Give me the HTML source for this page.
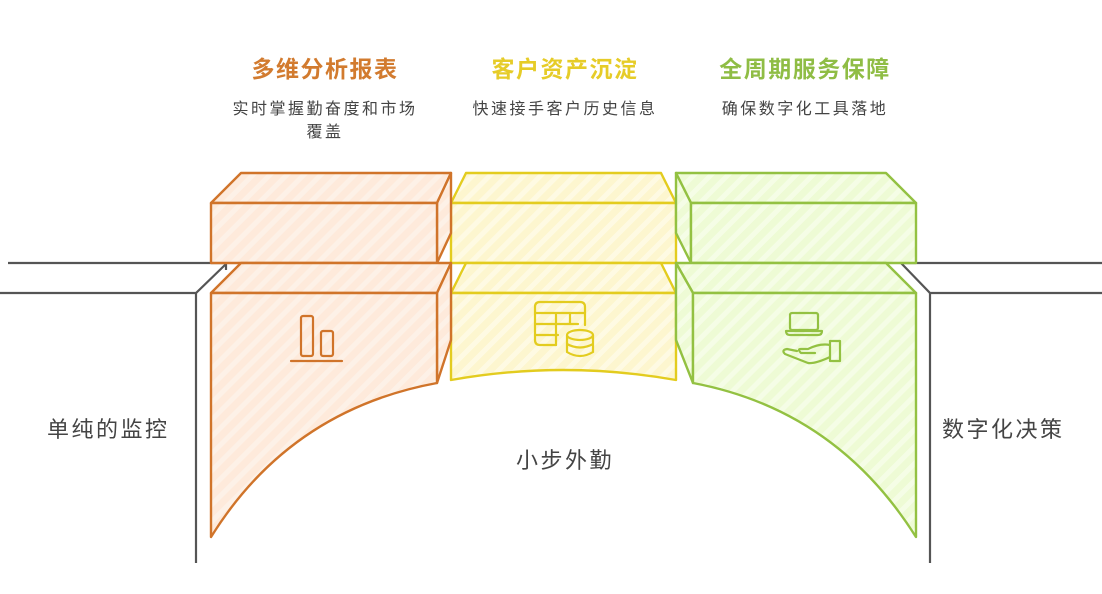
<!DOCTYPE html>
<html><head><meta charset="utf-8"><style>
html,body{margin:0;padding:0;background:#fff;}
svg{display:block;}
text{font-family:"Liberation Sans","Noto Sans CJK SC",sans-serif;}
</style></head><body>
<svg width="1102" height="594" viewBox="0 0 1102 594" xmlns="http://www.w3.org/2000/svg">
<defs>
<pattern id="po" width="12" height="12" patternUnits="userSpaceOnUse" patternTransform="rotate(45)">
<rect width="12" height="12" fill="#feeadb"/><rect width="5" height="12" fill="#fdf1e7"/></pattern>
<pattern id="py" width="12" height="12" patternUnits="userSpaceOnUse" patternTransform="rotate(45)">
<rect width="12" height="12" fill="#fdf6cf"/><rect width="5" height="12" fill="#fefae3"/></pattern>
<pattern id="pg" width="12" height="12" patternUnits="userSpaceOnUse" patternTransform="rotate(45)">
<rect width="12" height="12" fill="#eefbd5"/><rect width="5" height="12" fill="#f5fde6"/></pattern>
</defs>

<!-- gray walls -->
<g fill="none" stroke="#555" stroke-width="2.2">
<path d="M8 263 H226 V270"/>
<path d="M226 264 L196 293 H0"/>
<path d="M196 293 V563"/>
<path d="M1102 263 H901 L930 293 H1102"/>
<path d="M930 293 V563"/>
</g>

<!-- yellow (middle) -->
<g stroke="#e3cc1f" stroke-width="2.4" fill="url(#py)" stroke-linejoin="round">
<path d="M451 203 L466 173 H661 L676 203 Z"/>
<rect x="451" y="203" width="225" height="60"/>
<path d="M451 293 L466 263 H661 L676 293 Z"/>
<path d="M451 293 H676 V380 Q563 360 451 380 Z"/>
</g>

<!-- orange -->
<g stroke="#d0742a" stroke-width="2.4" fill="url(#po)" stroke-linejoin="round">
<path d="M211 203 L241 173 H451 L437 203 Z"/>
<path d="M437 203 L451 173 V233 L437 263 Z"/>
<rect x="211" y="203" width="226" height="60"/>
<path d="M211 293 L241 263 H451 L437 293 Z"/>
<path d="M437 293 L451 263 V340 L437 383 Z"/>
<path d="M211 293 H437 V383 Q290 410 211 537 Z"/>
</g>

<!-- green -->
<g stroke="#93c142" stroke-width="2.4" fill="url(#pg)" stroke-linejoin="round">
<path d="M676 173 H886 L916 203 H691 Z"/>
<path d="M676 173 L691 203 V263 L676 233 Z"/>
<rect x="691" y="203" width="225" height="60"/>
<path d="M676 263 H886 L916 293 H693 Z"/>
<path d="M676 263 L693 293 V383 L676 340 Z"/>
<path d="M693 293 H916 V537 Q836 410 693 383 Z"/>
</g>

<!-- icons -->
<g fill="none" stroke="#d0742a" stroke-width="2.2" stroke-linecap="round">
<rect x="301" y="316" width="12" height="40" rx="2"/>
<rect x="321" y="331" width="12" height="25" rx="2"/>
<path d="M291 361 H342"/>
</g>
<g fill="none" stroke="#e3cc1f" stroke-width="2.2" stroke-linecap="round">
<path d="M585 325 V307 Q585 302 580 302 H540 Q535 302 535 307 V340 Q535 345 540 345 H556"/>
<path d="M535 313 H585 M535 324 H578 M535 335 H558 M556 313 V345 M570 313 V324"/>
<ellipse cx="580" cy="335" rx="13" ry="5"/>
<path d="M567 335 V352 Q580 360 593 352 V335 M567 344 Q580 351 593 344"/>
</g>
<g fill="none" stroke="#93c142" stroke-width="2.2" stroke-linecap="round" stroke-linejoin="round">
<rect x="790" y="313" width="28" height="17" rx="2"/>
<path d="M786 331 H822 Q822 335 818 335 H790 Q786 335 786 331 Z"/>
<path d="M830 341 H840 V361 H830 Z"/>
<path d="M830 345 Q820 343 808 349 H801 Q797 349 801 353 H815 M830 357 Q815 364 808 363 L785 354 Q781 350 787 349 L797 351"/>
</g>

<!-- titles -->
<g font-size="23" font-weight="bold" text-anchor="middle" letter-spacing="1.5">
<text x="325" y="77" fill="#d27b2f">多维分析报表</text>
<text x="565" y="77" fill="#e6cc28">客户资产沉淀</text>
<text x="805" y="77" fill="#8fbd45">全周期服务保障</text>
</g>
<g font-size="16" fill="#444" text-anchor="middle" letter-spacing="2.5">
<text x="325" y="114">实时掌握勤奋度和市场</text>
<text x="325" y="137">覆盖</text>
<text x="565" y="114">快速接手客户历史信息</text>
<text x="805" y="114">确保数字化工具落地</text>
</g>
<g font-size="22" fill="#444" letter-spacing="2.5">
<text x="47" y="437">单纯的监控</text>
<text x="942" y="437">数字化决策</text>
<text x="516" y="468">小步外勤</text>
</g>
</svg>
</body></html>
